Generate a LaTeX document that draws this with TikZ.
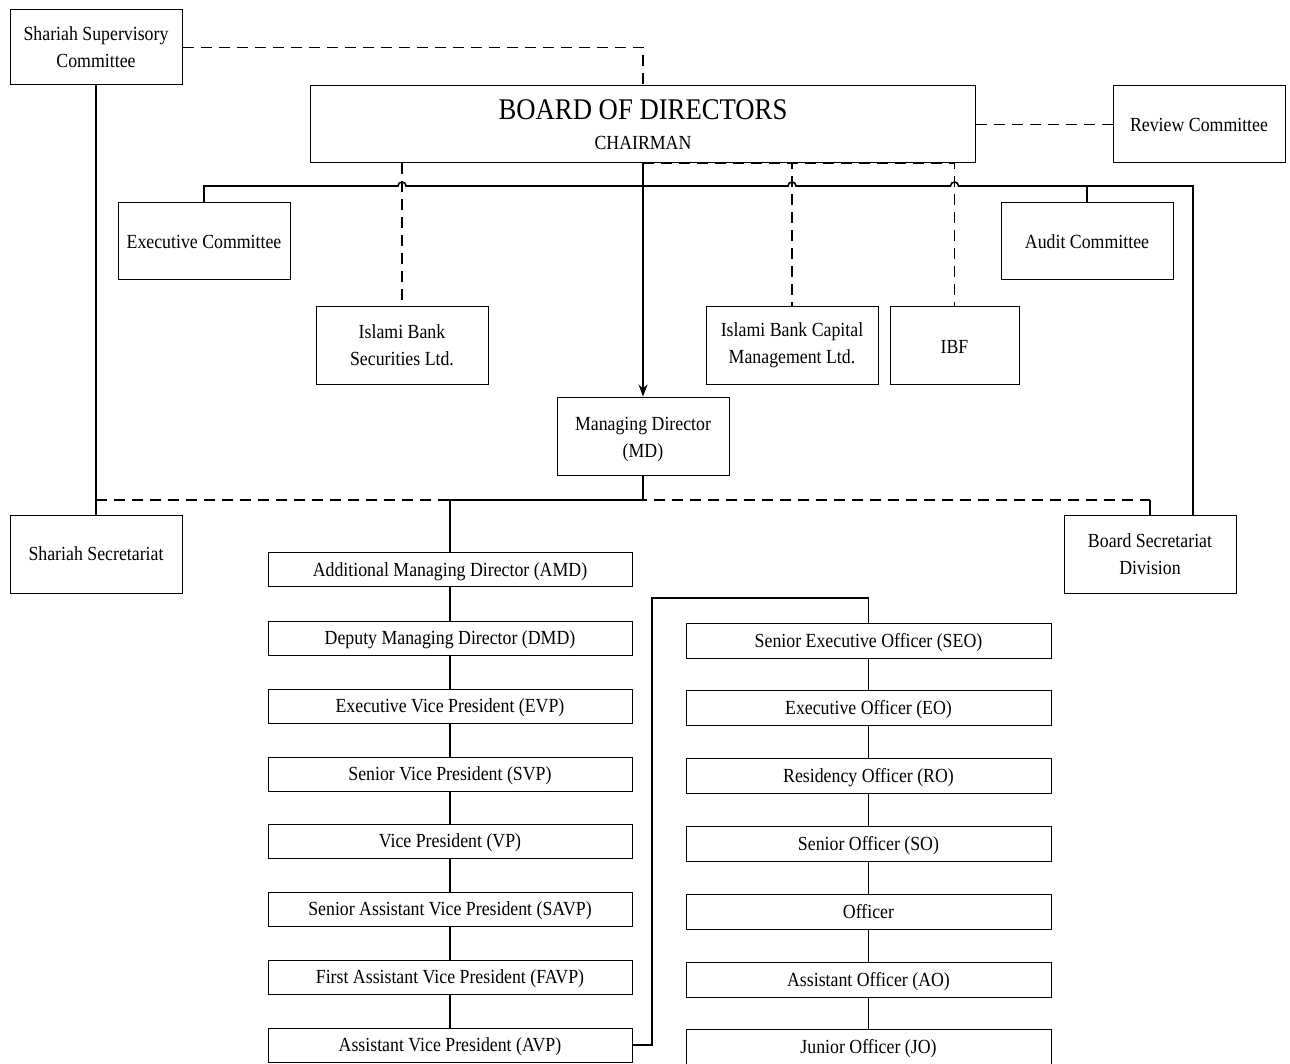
\documentclass[tikz,border=0pt]{standalone}
\usepackage{fontspec}
\setmainfont{Liberation Serif}[FakeStretch=0.89]
\usetikzlibrary{arrows.meta,positioning,calc}
\tikzset{
  orgbox/.style={draw=black,fill=white,line width=1pt,
                 minimum width=172pt,minimum height=77pt,
                 align=center,inner sep=2pt,
                 font=\fontsize{20}{27}\selectfont},
  rankbox/.style={draw=black,fill=white,line width=1pt,
                  minimum width=364pt,minimum height=34pt,
                  text height=15pt,text depth=2pt,
                  inner sep=2pt,font=\fontsize{20}{24}\selectfont},
  solidln/.style={line width=1.1pt},
  busln/.style={line width=1.6pt},
  dashln/.style={line width=1.2pt,dash pattern=on 11pt off 7pt},
  orgarr/.style={-{Stealth[length=12pt,width=9pt]},line width=1.3pt}
}
\begin{document}
\begin{tikzpicture}[x=1pt,y=-1pt]
  \useasboundingbox (0,0) rectangle (1290,1064);
  % top level
  \node[orgbox,minimum width=665pt] (board) at (643,124.5)
    {{\fontsize{30}{36}\selectfont BOARD OF DIRECTORS}\\[3pt]CHAIRMAN};
  \node[orgbox,minimum height=75pt] (ssc) at (96,47.5) {Shariah Supervisory\\Committee};
  \node[orgbox] (review) at (1199,124.5) {Review Committee};
  \node[orgbox] (exec) at (204,241.5) {Executive Committee};
  \node[orgbox] (audit) at (1087,241.5) {Audit Committee};
  \node[orgbox] (ibsl) at (402,345.5) {Islami Bank\\Securities Ltd.};
  \node[orgbox] (ibcm) at (792,345.5) {Islami Bank Capital\\Management Ltd.};
  \node[orgbox,minimum width=129pt,text height=16pt] (ibf) at (954.5,345.5) {IBF};
  \node[orgbox,minimum height=78pt,text height=47pt] (md) at (643,436) {Managing Director\\(MD)};
  \node[orgbox,minimum height=78pt] (ss) at (96,554) {Shariah Secretariat};
  \node[orgbox,minimum height=78pt] (bsd) at (1150,554) {Board Secretariat\\Division};

  % executive ranks
  \foreach \nm/\yy/\txt in {amd/569.5/Additional Managing Director (AMD),
      dmd/638/Deputy Managing Director (DMD),
      evp/706/Executive Vice President (EVP),
      svp/774/Senior Vice President (SVP),
      vp/841/Vice President (VP),
      savp/909/Senior Assistant Vice President (SAVP),
      favp/977/First Assistant Vice President (FAVP),
      avp/1045/Assistant Vice President (AVP)}
    \node[rankbox] (\nm) at (450,\yy) {\txt};

  % officer ranks
  \foreach \nm/\yy/\txt in {seo/640.5/Senior Executive Officer (SEO),
      eo/707.5/Executive Officer (EO),
      ro/775.5/Residency Officer (RO),
      so/843.5/Senior Officer (SO),
      off/911.5/Officer,
      ao/979.5/Assistant Officer (AO),
      jo/1047/Junior Officer (JO)}
    \node[rankbox,minimum width=365pt,minimum height=35pt] (\nm) at (868.5,\yy) {\txt};

  \coordinate (bus) at (643,186);
  \coordinate (bsdin) at (1193,515);
  \coordinate (split) at (643,500);
  \coordinate (jog) at (652,598);

  % dashed links
  \draw[dashln] (ssc.east) -| (board.north);
  \draw[dashln] (board.east) -- (review.west);
  \draw[dashln] (board.south -| ibsl.north) -- (ibsl.north);
  \draw[dashln] (board.south) -| (ibcm.north);
  \draw[dashln] (board.south) -| (ibf.north);
  \draw[dashln] (ss.north |- split) -- (bsd.north |- split);
  \draw[solidln] (bsd.north |- split) -- (bsd.north);

  % committee bus with hops
  \draw[busln] (exec.north) |- ($(ibsl.north |- bus)+(-4,0)$)
    arc[start angle=180,end angle=360,radius=4]
    -- ($(ibcm.north |- bus)+(-4,0)$)
    arc[start angle=180,end angle=360,radius=4]
    -- ($(ibf.north |- bus)+(-4,0)$)
    arc[start angle=180,end angle=360,radius=4]
    -| (bsdin);
  \draw[busln] (audit.north) -- (audit.north |- bus);
  \draw[solidln] (ssc.south) -- (ss.north);
  \draw[orgarr] (board.south) -- (md.north);
  \draw[busln] (md.south) -- (split) -| (amd.north);

  % rank chains
  \foreach \a/\b in {amd/dmd,dmd/evp,evp/svp,svp/vp,vp/savp,savp/favp,favp/avp,
      seo/eo,eo/ro,ro/so,so/off,off/ao,ao/jo}
    \draw[solidln] (\a.south) -- (\b.north);
  \draw[busln] (avp.east) -| (jog) -| (seo.north);
\end{tikzpicture}
\end{document}
